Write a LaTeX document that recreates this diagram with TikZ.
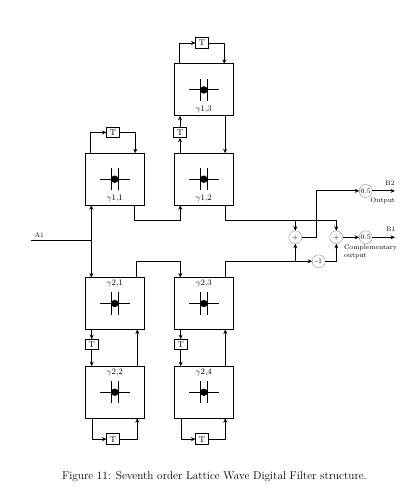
\documentclass[tikz,border=0pt]{standalone}
\usepackage{xcolor}
\usetikzlibrary{arrows.meta,positioning}
\definecolor{SumGray}{HTML}{8A8A8A}

\begin{document}
\begin{tikzpicture}[x=1pt,y=1pt,
    every node/.style={outer sep=0pt},
    cell/.style={draw,line width=0.8pt,minimum width=59pt,minimum height=52pt,inner sep=0pt},
    delay/.style={draw,line width=0.8pt,fill=white,minimum width=13pt,minimum height=10.5pt,
      inner sep=0pt,font=\fontsize{8.5}{9}\selectfont},
    sum/.style={circle,draw=SumGray,line width=0.4pt,minimum size=13pt,inner sep=0pt,
      font=\fontsize{7}{8}\selectfont},
    lbl/.style={inner sep=0pt,font=\fontsize{6.7}{8.6}\selectfont},
    gam/.style={inner sep=0pt,font=\fontsize{8.5}{9}\selectfont},
    wire/.style={line width=0.8pt},
    >={Stealth[length=4.5pt,width=4pt]}]
  \useasboundingbox (0,0) rectangle (412,504);
  % upper branch
  \node[cell] (g11) at (114.8,324.8) {};
  \node[cell, right=30pt of g11] (g12) {};
  \node[cell, above=37.3pt of g12] (g13) {};
  \node[delay, above=15.5pt of g11, xshift=-1.8pt] (T11) {T};
  \node[delay, above=15.5pt of g12, xshift=-23.8pt] (T12) {T};
  \node[delay, above=15.7pt of g13, xshift=-1.8pt] (T13) {T};
  % lower branch
  \node[cell, below=72.3pt of g11] (g21) {};
  \node[cell, right=30pt of g21] (g23) {};
  \node[cell, below=36.7pt of g21] (g22) {};
  \node[cell, right=30pt of g22] (g24) {};
  \node[delay, below=9.7pt of g21, xshift=-23.1pt] (T21) {T};
  \node[delay, below=9.7pt of g23, xshift=-23.1pt] (T23) {T};
  \node[delay, below=15.7pt of g22, xshift=-1.8pt] (T22) {T};
  \node[delay, below=15.7pt of g24, xshift=-1.8pt] (T24) {T};
  % cross marks
  \foreach \cellname in {g11,g12,g13,g21,g22,g23,g24} {
    \draw[wire] (\cellname.center) ++(-15,0) -- ++(30,0);
    \draw[wire] (\cellname.center) ++(-3.9,-11.2) -- ++(0,22.4);
    \draw[wire] (\cellname.center) ++(3.9,-11.2) -- ++(0,22.4);
    \fill (\cellname.center) circle (3.7);
  }
  \node[gam, above=3.2pt of g11.south] (l11) {$\gamma$1,1};
  \node[gam, above=3.2pt of g12.south] (l12) {$\gamma$1,2};
  \node[gam, above=3.2pt of g13.south] (l13) {$\gamma$1,3};
  \node[gam, below=2.2pt of g21.north] (l21) {$\gamma$2,1};
  \node[gam, below=2.2pt of g23.north] (l23) {$\gamma$2,3};
  \node[gam, below=2.2pt of g22.north] (l22) {$\gamma$2,2};
  \node[gam, below=2.2pt of g24.north] (l24) {$\gamma$2,4};
  % output stage
  \node[sum] (add1) at (295.3,266.7) {+};
  \node[sum, right=28pt of add1] (add2) {+};
  \node[sum] (neg) at (318.7,242.7) {-1};
  \node[sum, right=16.4pt of add2] (half1) {0.5};
  \node[sum, above=33.4pt of half1] (half2) {0.5};
  \coordinate[right=22.8pt of half1] (out1);
  \coordinate[right=22.8pt of half2] (out2);
  \node[lbl] (B2) at (390,320.7) {B2};
  \node[lbl] (B1) at (390.6,274.3) {B1};
  \node[lbl] (lout) at (382.7,303.7) {Output};
  \node[lbl, align=left, anchor=north west] (lcomp) at (344,259.5) {Complementary\\output};
  % input
  \coordinate (inA) at (31,264);
  \node[lbl, above right=2pt and 3.5pt of inA] (A1) {A1};
  \draw[wire,->] (inA) -| ([xshift=6pt]g11.south west);
  \draw[wire,->] (inA) -| ([xshift=6pt]g21.north west);
  % upper connections
  \draw[wire,->] ([xshift=5.5pt]g11.north west) |- (T11);
  \draw[wire,->] (T11) -| ([xshift=50pt]g11.north west);
  \draw[wire,->] ([xshift=5.5pt]g13.north west) |- (T13);
  \draw[wire,->] (T13) -| ([xshift=50pt]g13.north west);
  \draw[wire,->] (T12 |- g12.north) -- (T12);
  \draw[wire,->] (T12) -- (T12 |- g13.south);
  \draw[wire,->] ([xshift=50.8pt]g13.south west) -- ([xshift=50.8pt]g12.north west);
  \draw[wire,->] ([xshift=49pt]g11.south west) |- ++(0,-15.3) -| ([xshift=6pt]g12.south west);
  % lower connections
  \draw[wire,->] (T21 |- g21.south) -- (T21);
  \draw[wire,->] (T21) -- (T21 |- g22.north);
  \draw[wire,->] (T23 |- g23.south) -- (T23);
  \draw[wire,->] (T23) -- (T23 |- g24.north);
  \draw[wire,->] ([xshift=52pt]g22.north west) -- ([xshift=52pt]g21.south west);
  \draw[wire,->] ([xshift=51pt]g24.north west) -- ([xshift=51pt]g23.south west);
  \draw[wire,->] ([xshift=7pt]g22.south west) |- (T22);
  \draw[wire,->] (T22) -| ([xshift=52pt]g22.south west);
  \draw[wire,->] ([xshift=7pt]g24.south west) |- (T24);
  \draw[wire,->] (T24) -| ([xshift=51pt]g24.south west);
  \draw[wire,->] ([xshift=51pt]g21.north west) |- ++(0,15.6) -| ([xshift=6pt]g23.north west);
  % to the outputs
  \coordinate (bus1) at ([xshift=51pt,yshift=-15pt]g12.south west);
  \draw[wire] ([xshift=51pt]g12.south west) -- (bus1);
  \draw[wire,->] (bus1) -| (add2);
  \draw[wire,->] (bus1 -| add1) -- (add1);
  \draw[wire,->] ([xshift=51pt]g23.north west) |- (neg);
  \draw[wire,->] (add1 |- neg) -- (add1);
  \draw[wire,->] (neg) -| (add2);
  \draw[wire,->] (add1) -- ++(21.4,0) |- (half2);
  \draw[wire,->] (add2) -- (half1);
  \draw[wire,->] (half1) -- (out1);
  \draw[wire,->] (half2) -- (out2);
  % caption
  \node[font=\fontsize{11.25}{13}\selectfont] (caption) at (214.5,27)
    {Figure 11: Seventh order Lattice Wave Digital Filter structure.};
\end{tikzpicture}
\end{document}
